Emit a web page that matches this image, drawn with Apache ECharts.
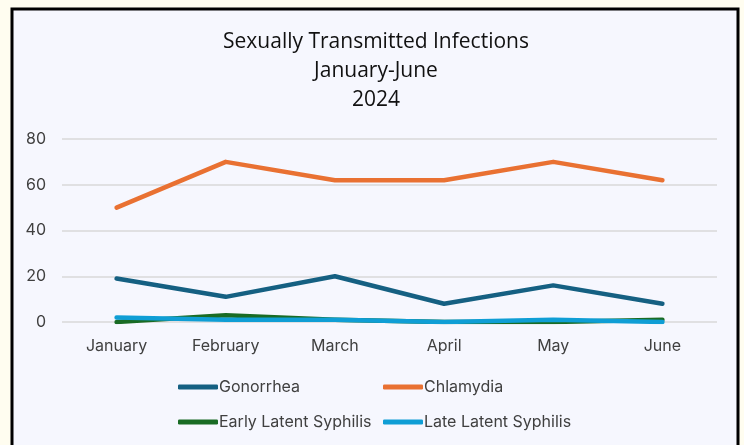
<!DOCTYPE html>
<html>
<head>
<meta charset="utf-8">
<script src="https://cdn.jsdelivr.net/npm/echarts@6/dist/echarts.min.js"></script>
<style>
  html, body { margin: 0; padding: 0; background: #fffdf0; }
  #chart { width: 744px; height: 445px; }
</style>
</head>
<body>
<div id="chart"></div>
<script>
// months on the x axis
const months = ['January', 'February', 'March', 'April', 'May', 'June']
// case counts
const gonorrhea = [19, 11, 20, 8, 16, 8]
const chlamydia = [50, 70, 62, 62, 70, 62]
const earlyLatent = [0, 3, 1, 0, 0, 1]
const lateLatent = [2, 1, 1, 0, 1, 0]

const colors = {
  gonorrhea: '#156082',
  chlamydia: '#E97132',
  early: '#196B24',
  late: '#0F9ED5'
}

const chart = echarts.init(document.getElementById('chart'))

function legendAt(name, left, top) {
  return {
    left: left,
    top: top,
    data: [name],
    icon: 'roundRect',
    itemWidth: 40,
    itemHeight: 5,
    itemGap: 0,
    textStyle: {
      fontFamily: 'Inter',
      fontSize: 16,
      color: '#404040',
      padding: [0, 0, 0, -4]
    }
  }
}

function lineSeries(name, data, color, z) {
  return {
    name: name,
    type: 'line',
    data: data,
    symbol: 'none',
    z: z,
    lineStyle: { color: color, width: 4.5, cap: 'round', join: 'round' },
    itemStyle: { color: color }
  }
}

chart.setOption({
  animation: false,
  graphic: [
    {
      type: 'rect',
      z: -10,
      shape: { x: 12, y: 9, width: 726, height: 450 },
      style: { fill: '#f6f7fe', stroke: '#000', lineWidth: 3 }
    }
  ],
  title: {
    text: 'Sexually Transmitted Infections\nJanuary-June\n2024',
    left: 371,
    top: 23,
    textAlign: 'center',
    textStyle: {
      fontFamily: 'Open Sans',
      fontWeight: 'normal',
      fontSize: 21,
      lineHeight: 29,
      color: '#111'
    }
  },
  legend: [
    legendAt('Gonorrhea', 173, 374),
    legendAt('Chlamydia', 378, 374),
    legendAt('Early Latent Syphilis', 173, 409),
    legendAt('Late Latent Syphilis', 378, 409)
  ],
  grid: {
    left: 62,
    right: 27,
    top: 139,
    bottom: 123
  },
  xAxis: {
    type: 'category',
    data: months,
    boundaryGap: true,
    axisLine: { show: false },
    axisTick: { show: false },
    axisLabel: {
      fontFamily: 'Inter',
      fontSize: 16,
      color: '#404040',
      margin: 16
    }
  },
  yAxis: {
    type: 'value',
    min: 0,
    max: 80,
    interval: 20,
    axisLine: { show: false },
    axisTick: { show: false },
    axisLabel: {
      fontFamily: 'Inter',
      fontSize: 16,
      color: '#404040',
      margin: 16
    },
    splitLine: { lineStyle: { color: '#d9d9d9', width: 1.5 } }
  },
  series: [
    lineSeries('Gonorrhea', gonorrhea, colors.gonorrhea, 4),
    lineSeries('Chlamydia', chlamydia, colors.chlamydia, 3),
    lineSeries('Early Latent Syphilis', earlyLatent, colors.early, 2),
    lineSeries('Late Latent Syphilis', lateLatent, colors.late, 5)
  ]
})
</script>
</body>
</html>
